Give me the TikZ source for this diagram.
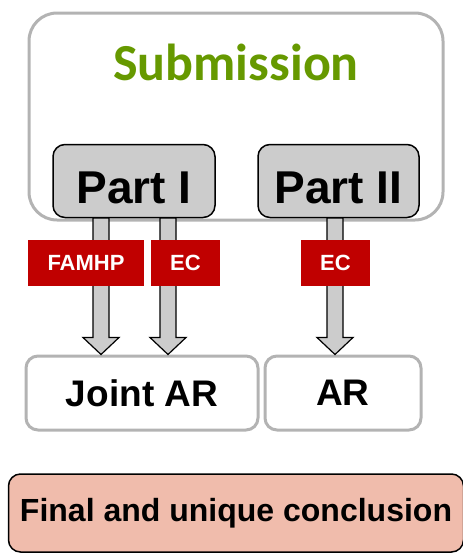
\documentclass[tikz,border=0pt]{standalone}
\usepackage{fontspec}
\setmainfont{Liberation Sans}
\newfontfamily\titlefont{Carlito}
\usetikzlibrary{positioning, calc}

\definecolor{linegray}{HTML}{B3B3B3}
\definecolor{partgray}{HTML}{CCCCCC}
\definecolor{tagred}{HTML}{C00000}
\definecolor{titlegreen}{HTML}{669900}
\definecolor{finalpink}{HTML}{F0BCAC}

% block arrow from a start point down to a tip
\newcommand{\blockarrow}[2]{%
    \draw[blockarrow] ($(#1)+(-8,0)$) -- ($(#2)+(-8,-17)$) -- ($(#2)+(-18,-17)$)
        -- (#2) -- ($(#2)+(18,-17)$) -- ($(#2)+(8,-17)$) -- ($(#1)+(8,0)$) -- cycle;}

\begin{document}
\begin{tikzpicture}[x=1pt, y=-1pt,
        outerbox/.style={draw=linegray, line width=3pt, rounded corners=28pt, minimum width=414pt, minimum height=207pt},
        partbox/.style={draw, fill=partgray, line width=1.5pt, rounded corners=12pt, minimum width=162pt, minimum height=73pt,
            text height=45pt, text depth=0pt, font=\bfseries\fontsize{46}{50}\selectfont},
        arbox/.style={draw=linegray, fill=white, line width=3pt, rounded corners=12pt, minimum height=74pt, font=\bfseries\fontsize{37}{40}\selectfont},
        tag/.style={fill=tagred, text=white, minimum height=46pt, inner sep=0pt, font=\bfseries\fontsize{22}{26}\selectfont},
        blockarrow/.style={draw, fill=partgray, line width=1.2pt, line join=miter}]
        \useasboundingbox (0,0) rectangle (463,555);

        % Submission frame
        \node[outerbox] (sub) at (236,116.5) {};
        \node[text=titlegreen, font=\titlefont\bfseries\fontsize{52}{58}\selectfont] (title) at (236,62) {Submission};

        % Parts
        \node[partbox] (PI) at (134,181) {Part I};
        \node[partbox, minimum width=161pt] (PII) at (338.5,181) {Part II};

        % Assessment reports
        \node[arbox, minimum width=232pt] (JAR) at (142,393) {Joint AR};
        \node[arbox, minimum width=156pt] (AR) at (343,393) {AR};

        % Arrows
        \coordinate (a1) at (101,218);
        \coordinate (a2) at (168,218);
        \coordinate (a3) at (335,218);
        \blockarrow{a1}{JAR.north -| a1}
        \blockarrow{a2}{JAR.north -| a2}
        \blockarrow{a3}{AR.north -| a3}

        % Assessors
        \node[tag, minimum width=116pt] (famhp) at (86,263) {FAMHP};
        \node[tag, minimum width=69pt] (ec1) at (185.5,263) {EC};
        \node[tag, minimum width=69pt] (ec2) at (335.5,263) {EC};

        % Conclusion
        \node[draw, fill=finalpink, line width=1.5pt, rounded corners=12pt, minimum width=455pt, minimum height=78pt,
            font=\bfseries\fontsize{32}{36}\selectfont] (final) at (236,513) {Final and unique conclusion};
    \end{tikzpicture}
\end{document}
